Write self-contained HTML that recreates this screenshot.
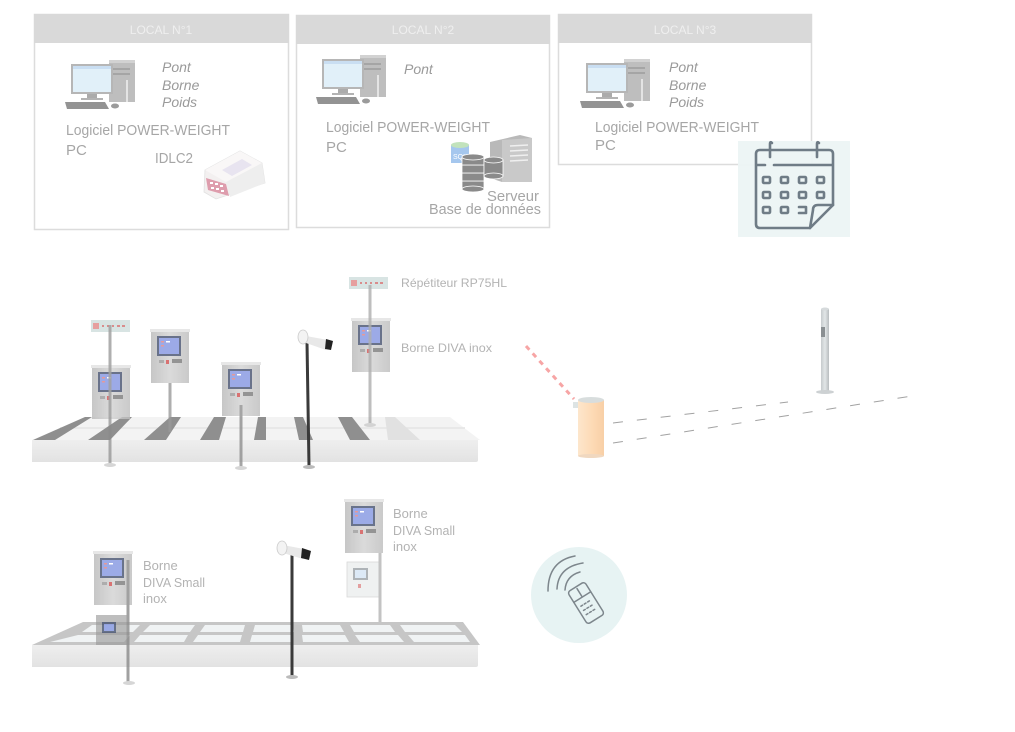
<!DOCTYPE html>
<html><head><meta charset="utf-8">
<style>
html,body{margin:0;padding:0;background:#fff;}
body{width:1015px;height:732px;overflow:hidden;}
svg{display:block;font-family:"Liberation Sans",sans-serif;}
</style></head>
<body>
<svg width="1015" height="732" viewBox="0 0 1015 732" xmlns="http://www.w3.org/2000/svg">
<defs>
  <linearGradient id="steel" x1="0" x2="1" y1="0" y2="0">
    <stop offset="0" stop-color="#b9b9b9"/>
    <stop offset="0.5" stop-color="#d2d2d2"/>
    <stop offset="1" stop-color="#bdbdbd"/>
  </linearGradient>
  <linearGradient id="front" x1="0" x2="0" y1="0" y2="1">
    <stop offset="0" stop-color="#ececec"/>
    <stop offset="1" stop-color="#dedede"/>
  </linearGradient>
  <linearGradient id="cyl" x1="0" x2="1" y1="0" y2="0">
    <stop offset="0" stop-color="#fde6cc"/>
    <stop offset="0.6" stop-color="#fdd9b3"/>
    <stop offset="1" stop-color="#f8cfa6"/>
  </linearGradient>
  <linearGradient id="postg" x1="0" x2="1" y1="0" y2="0">
    <stop offset="0" stop-color="#c6cbcd"/>
    <stop offset="0.5" stop-color="#e2e6e7"/>
    <stop offset="1" stop-color="#b8bdbf"/>
  </linearGradient>
  <symbol id="kiosk" viewBox="0 0 38 54" width="38" height="54" overflow="visible">
    <rect x="0" y="2" width="38" height="52" fill="url(#steel)"/>
    <rect x="-1" y="0" width="40" height="3" fill="#e2e2e2"/>
    <rect x="6" y="7" width="24" height="20" fill="#44506e"/>
    <rect x="8" y="9" width="20" height="16" fill="#8496e2"/>
    <rect x="10" y="12" width="3" height="1.5" fill="#e08080"/>
    <rect x="10" y="16" width="3" height="1.5" fill="#e08080"/>
    <rect x="15" y="12" width="4" height="1.5" fill="#ffffff"/>
    <rect x="8" y="31" width="5" height="3" fill="#999"/>
    <rect x="15" y="31" width="3" height="4" fill="#d05050"/>
    <rect x="21" y="30" width="10" height="4" fill="#7a7a7a"/>
  </symbol>
  <symbol id="rep" viewBox="0 0 39 12" width="39" height="12" overflow="visible">
    <rect x="0" y="0" width="39" height="12" fill="#cfdedd"/>
    <rect x="2" y="3" width="6" height="6" fill="#e08888"/>
    <rect x="11" y="5" width="2" height="2" fill="#d07070"/>
    <rect x="16" y="5" width="2" height="2" fill="#d07070"/>
    <rect x="21" y="5" width="2" height="2" fill="#d07070"/>
    <rect x="26" y="5" width="3" height="2" fill="#d07070"/>
    <rect x="31" y="5" width="3" height="2" fill="#d07070"/>
  </symbol>
  <symbol id="pc" viewBox="0 0 72 52" width="72" height="52" overflow="visible">
    <rect x="44" y="2" width="26" height="42" fill="#a9a9a9"/>
    <rect x="44" y="2" width="26" height="3" fill="#c4c4c4"/>
    <rect x="47" y="10" width="18" height="2" fill="#888"/>
    <rect x="47" y="15" width="18" height="2" fill="#888"/>
    <path d="M62 22 L62 44" stroke="#dcdcdc" stroke-width="2"/>
    <rect x="6" y="6" width="42" height="30" fill="#9e9e9e"/>
    <rect x="8" y="8" width="38" height="26" fill="#d8ebf7"/>
    <rect x="8" y="8" width="38" height="3" fill="#b8d4ee"/>
    <rect x="22" y="36" width="10" height="4" fill="#8f8f8f"/>
    <rect x="16" y="40" width="22" height="2" fill="#9a9a9a"/>
    <path d="M0 44 L40 44 L44 51 L2 51 Z" fill="#6f6f6f"/>
    <ellipse cx="50" cy="48" rx="4" ry="2.5" fill="#7a7a7a"/>
  </symbol>
</defs>

<!-- ============ TOP BOXES ============ -->
<!-- Box 1 -->
<rect x="34.5" y="14.5" width="254" height="215" fill="#fff" stroke="#dcdcdc" stroke-width="1.5"/>
<rect x="34" y="14" width="255" height="29" fill="#d9d9d9"/>
<text x="161" y="34" font-size="12" fill="#efefef" text-anchor="middle">LOCAL N°1</text>
<g opacity="0.75"><use href="#pc" x="65" y="58"/></g>
<g font-size="14" font-style="italic" fill="#9a9a9a">
  <text x="162" y="72">Pont</text>
  <text x="162" y="90">Borne</text>
  <text x="162" y="107">Poids</text>
</g>
<text x="66" y="135" font-size="15" fill="#a6a6a6" textLength="164" lengthAdjust="spacingAndGlyphs">Logiciel POWER-WEIGHT</text>
<text x="66" y="155" font-size="15" fill="#a6a6a6">PC</text>
<text x="155" y="163" font-size="15" fill="#a6a6a6" textLength="38" lengthAdjust="spacingAndGlyphs">IDLC2</text>
<!-- IDLC2 device -->
<g opacity="0.85">
  <path d="M205 170 L240 151 L262 163 L265 183 L216 199 L204 192 Z" fill="#f2eeee" stroke="#dcdcdc" stroke-width="0.8"/>
  <path d="M205 170 L240 151 L262 163 L226 182 Z" fill="#f8f6f6"/>
  <path d="M222 170 L242 159 L252 165 L232 176 Z" fill="#e4e0ee"/>
  <path d="M226 182 L262 163 L265 183 L230 197 Z" fill="#ececec"/>
  <path d="M206 178 L226 184 L229 196 L208 190 Z" fill="#d98d9f"/>
  <g fill="#fff"><rect x="210" y="182" width="3" height="2"/><rect x="215" y="183" width="3" height="2"/><rect x="220" y="185" width="3" height="2"/><rect x="211" y="187" width="3" height="2"/><rect x="216" y="188" width="3" height="2"/><rect x="221" y="190" width="3" height="2"/></g>
</g>

<!-- Box 2 -->
<rect x="296.5" y="15.5" width="253" height="212" fill="#fff" stroke="#dcdcdc" stroke-width="1.5"/>
<rect x="296" y="15" width="254" height="29" fill="#d9d9d9"/>
<text x="423" y="34" font-size="12" fill="#efefef" text-anchor="middle">LOCAL N°2</text>
<g opacity="0.75"><use href="#pc" x="316" y="53"/></g>
<text x="404" y="74" font-size="14" font-style="italic" fill="#9a9a9a">Pont</text>
<text x="326" y="132" font-size="15" fill="#a6a6a6" textLength="164" lengthAdjust="spacingAndGlyphs">Logiciel POWER-WEIGHT</text>
<text x="326" y="152" font-size="15" fill="#a6a6a6">PC</text>
<!-- server / db icon -->
<g opacity="0.7">
  <path d="M490 142 L520 135 L532 138 L532 182 L502 182 L490 178 Z" fill="#9c9c9c"/>
  <path d="M502 140 L532 138 L532 182 L502 182 Z" fill="#b3b3b3"/>
  <g stroke="#e9e9e9" stroke-width="1.5"><line x1="510" y1="146" x2="528" y2="145"/><line x1="510" y1="151" x2="528" y2="150"/><line x1="510" y1="156" x2="528" y2="155"/><line x1="510" y1="161" x2="528" y2="160"/></g>
  <rect x="451" y="145" width="18" height="18" fill="#7fb0e8"/>
  <ellipse cx="460" cy="145" rx="9" ry="3" fill="#a9d8a0"/>
  <text x="453" y="159" font-size="7" fill="#fff">SQL</text>
  <g fill="#5a5a5a" stroke="#fff" stroke-width="0.8">
    <rect x="462" y="181" width="22" height="8"/><ellipse cx="473" cy="189" rx="11" ry="3"/>
    <rect x="462" y="173" width="22" height="8"/>
    <rect x="462" y="165" width="22" height="8"/>
    <rect x="462" y="157" width="22" height="8"/><ellipse cx="473" cy="157" rx="11" ry="3"/>
    <rect x="484" y="160" width="19" height="16"/><ellipse cx="493.5" cy="160" rx="9.5" ry="3"/><ellipse cx="493.5" cy="176" rx="9.5" ry="3"/>
  </g>
</g>
<text x="487" y="201" font-size="15" fill="#a6a6a6" textLength="52" lengthAdjust="spacingAndGlyphs">Serveur</text>
<text x="429" y="214" font-size="15" fill="#a6a6a6" textLength="112" lengthAdjust="spacingAndGlyphs">Base de données</text>

<!-- Box 3 -->
<rect x="558.5" y="14.5" width="253" height="150" fill="#fff" stroke="#dcdcdc" stroke-width="1.5"/>
<rect x="558" y="14" width="254" height="29" fill="#d9d9d9"/>
<text x="685" y="34" font-size="12" fill="#efefef" text-anchor="middle">LOCAL N°3</text>
<g opacity="0.75"><use href="#pc" x="580" y="57"/></g>
<g font-size="14" font-style="italic" fill="#9a9a9a">
  <text x="669" y="72">Pont</text>
  <text x="669" y="90">Borne</text>
  <text x="669" y="107">Poids</text>
</g>
<text x="595" y="132" font-size="15" fill="#a6a6a6" textLength="164" lengthAdjust="spacingAndGlyphs">Logiciel POWER-WEIGHT</text>
<text x="595" y="150" font-size="15" fill="#a6a6a6">PC</text>

<!-- Calendar -->
<rect x="738" y="141" width="112" height="96" fill="#ecf4f4" opacity="0.95"/>
<g fill="none" stroke="#6f7c86" stroke-width="2.6" stroke-linejoin="round" stroke-linecap="round">
  <path d="M760 150 L829 150 Q833 150 833 154 L833 205 L810 228 L760 228 Q756 228 756 224 L756 154 Q756 150 760 150 Z"/>
  <line x1="757" y1="165" x2="765" y2="165"/>
  <line x1="774" y1="165" x2="832" y2="165"/>
  <path d="M770 157 L770 144 Q770 141 772 143"/>
  <path d="M817 157 L817 144 Q817 141 819 143"/>
  <path d="M833 205 L818 205 Q813 205 813 210 L810 228"/>
  <rect x="763" y="177" width="7" height="6" rx="1"/><rect x="781" y="177" width="7" height="6" rx="1"/><rect x="799" y="177" width="7" height="6" rx="1"/><rect x="817" y="177" width="7" height="6" rx="1"/>
  <rect x="763" y="192" width="7" height="6" rx="1"/><rect x="781" y="192" width="7" height="6" rx="1"/><rect x="799" y="192" width="7" height="6" rx="1"/><rect x="817" y="192" width="7" height="6" rx="1"/>
  <rect x="763" y="207" width="7" height="6" rx="1"/><rect x="781" y="207" width="7" height="6" rx="1"/><path d="M799 207 L806 207 L806 213 L799 213"/>
</g>

<!-- ============ PLATFORM 1 ============ -->
<g opacity="0.85">
  <path d="M32 440 L478 440 L478 460 Q478 462 476 462 L32 462 Z" fill="url(#front)"/>
  <path d="M85 417 L450 417 L480 440 L32 440 Z" fill="#f2f2f2"/>
  <line x1="60" y1="428" x2="465" y2="428" stroke="#e0e0e0" stroke-width="1.5"/>
  <g fill="#7c7c7c">
    <path d="M33 440 L55 440 L92 417 L85 417 Z"/>
    <path d="M88 440 L110 440 L132 417 L122 417 Z"/>
    <path d="M144 440 L166 440 L181 417 L170 417 Z"/>
    <path d="M200 440 L219 440 L226 417 L214 417 Z"/>
    <path d="M254 440 L266 440 L266 417 L258 417 Z"/>
    <path d="M299 440 L313 440 L303 417 L294 417 Z"/>
    <path d="M350 440 L370 440 L352 417 L338 417 Z"/>
  </g>
  <path d="M388 440 L420 440 L395 417 L385 417 Z" fill="#dcdcdc"/>
</g>
<!-- devices on platform 1 -->
<g opacity="0.8">
  <use href="#rep" x="91" y="320"/>
  <use href="#kiosk" x="92" y="365"/>
  <use href="#kiosk" x="151" y="329"/>
  <line x1="170" y1="383" x2="170" y2="432" stroke="#9a9a9a" stroke-width="3"/>
  <use href="#kiosk" x="222" y="362"/>
  <line x1="241" y1="405" x2="241" y2="468" stroke="#8f8f8f" stroke-width="3"/>
  <use href="#rep" x="349" y="277"/>
  <use href="#kiosk" x="352" y="318"/>
  <line x1="370" y1="285" x2="370" y2="425" stroke="#9a9a9a" stroke-width="3" opacity="0.8"/>
  <line x1="110" y1="325" x2="110" y2="465" stroke="#8a8a8a" stroke-width="3" opacity="0.85"/>
  <ellipse cx="110" cy="465" rx="6" ry="2" fill="#ccc"/>
  <ellipse cx="241" cy="468" rx="6" ry="2" fill="#ccc"/>
  <ellipse cx="370" cy="425" rx="6" ry="2" fill="#ccc"/>
</g>
<!-- camera 1 -->
<g>
  <line x1="307" y1="342" x2="309" y2="466" stroke="#3a3a3a" stroke-width="3"/>
  <ellipse cx="309" cy="467" rx="6" ry="2" fill="#bbb"/>
  <path d="M306 336 L328 340 L326 350 L306 343 Z" fill="#e8e8e8"/>
  <path d="M326 339 L333 341 L331 350 L325 349 Z" fill="#222"/>
  <ellipse cx="303" cy="337" rx="5" ry="7" fill="#f3f3f3" stroke="#ccc" stroke-width="0.8"/>
</g>
<text x="401" y="287" font-size="12" fill="#b3b3b3" textLength="106" lengthAdjust="spacingAndGlyphs">Répétiteur RP75HL</text>
<text x="401" y="352" font-size="12" fill="#b3b3b3" textLength="91" lengthAdjust="spacingAndGlyphs">Borne DIVA inox</text>

<!-- ============ BARRIER AREA ============ -->
<line x1="526" y1="346" x2="574" y2="399" stroke="#f7a5a5" stroke-width="3" stroke-dasharray="5 5"/>
<rect x="573" y="402" width="6" height="6" fill="#dde4e4"/>
<rect x="578" y="400" width="26" height="56" fill="url(#cyl)"/>
<ellipse cx="591" cy="400" rx="13" ry="3" fill="#d8dddd"/>
<ellipse cx="591" cy="456" rx="13" ry="2" fill="#f0d8c0"/>
<g stroke="#a2a2a2" stroke-width="1" stroke-dasharray="10 14">
  <line x1="613" y1="423" x2="788" y2="402"/>
  <line x1="613" y1="443" x2="912" y2="396"/>
</g>
<rect x="821" y="309" width="8" height="83" fill="url(#postg)"/>
<ellipse cx="825" cy="309" rx="4" ry="1.5" fill="#d6dadc"/>
<rect x="821" y="327" width="4" height="10" fill="#8a8f92"/>
<ellipse cx="825" cy="392" rx="9" ry="2" fill="#cdd1d3"/>

<!-- ============ PLATFORM 2 ============ -->
<g opacity="0.85">
  <path d="M32 645 L478 645 L478 665 Q478 667 476 667 L32 667 Z" fill="url(#front)"/>
  <path d="M83 622 L463 622 L480 645 L32 645 Z" fill="#bdbdbd"/>
  <g fill="#eef2f3">
    <path d="M92 625 L140 625 L133 632 L82 632 Z"/>
    <path d="M150 625 L195 625 L190 632 L143 632 Z"/>
    <path d="M205 625 L245 625 L243 632 L200 632 Z"/>
    <path d="M255 625 L293 625 L294 632 L253 632 Z"/>
    <path d="M302 625 L340 625 L344 632 L303 632 Z"/>
    <path d="M350 625 L390 625 L395 632 L354 632 Z"/>
    <path d="M400 625 L455 625 L462 632 L405 632 Z"/>
    <path d="M78 635 L130 635 L124 642 L50 642 Z"/>
    <path d="M140 635 L188 635 L184 642 L134 642 Z"/>
    <path d="M198 635 L242 635 L240 642 L193 642 Z"/>
    <path d="M252 635 L292 635 L293 642 L250 642 Z"/>
    <path d="M302 635 L345 635 L349 642 L303 642 Z"/>
    <path d="M355 635 L398 635 L404 642 L360 642 Z"/>
    <path d="M408 635 L465 635 L470 642 L414 642 Z"/>
  </g>
</g>
<g opacity="0.8">
  <use href="#kiosk" x="94" y="551"/>
  <rect x="96" y="615" width="32" height="30" fill="#9a9a9a" opacity="0.8"/>
  <rect x="102" y="622" width="14" height="11" fill="#44506e"/>
  <rect x="104" y="624" width="10" height="7" fill="#8496e2"/>
  <line x1="128" y1="560" x2="128" y2="683" stroke="#8a8a8a" stroke-width="3"/>
  <ellipse cx="129" cy="683" rx="6" ry="2" fill="#ccc"/>
  <use href="#kiosk" x="345" y="499"/>
  <rect x="347" y="562" width="33" height="35" fill="#eceeee" stroke="#cfcfcf" stroke-width="0.8"/>
  <rect x="353" y="568" width="15" height="12" fill="#9aa0a6"/>
  <rect x="355" y="570" width="11" height="8" fill="#d4e4f4"/>
  <rect x="358" y="584" width="3" height="4" fill="#d88"/>
  <line x1="380" y1="553" x2="380" y2="622" stroke="#b5b5b5" stroke-width="3"/>
</g>
<!-- camera 2 -->
<g>
  <line x1="292" y1="555" x2="292" y2="677" stroke="#3a3a3a" stroke-width="3"/>
  <ellipse cx="292" cy="677" rx="6" ry="2" fill="#bbb"/>
  <path d="M283 545 L304 549 L303 559 L283 553 Z" fill="#e8e8e8"/>
  <path d="M302 548 L311 551 L309 560 L301 558 Z" fill="#222"/>
  <ellipse cx="282" cy="548" rx="5" ry="7" fill="#f3f3f3" stroke="#ccc" stroke-width="0.8"/>
</g>
<g font-size="13" fill="#b3b3b3">
  <text x="143" y="570">Borne</text>
  <text x="143" y="587" textLength="62" lengthAdjust="spacingAndGlyphs">DIVA Small</text>
  <text x="143" y="603">inox</text>
  <text x="393" y="518">Borne</text>
  <text x="393" y="535" textLength="62" lengthAdjust="spacingAndGlyphs">DIVA Small</text>
  <text x="393" y="551">inox</text>
</g>

<!-- remote -->
<circle cx="579" cy="595" r="48" fill="#e7f3f3"/>
<g fill="none" stroke="#7d868c" stroke-width="1.5" stroke-linecap="round">
  <g transform="rotate(-32 586 603)">
    <rect x="576" y="584" width="20" height="38" rx="3"/>
    <line x1="576" y1="596" x2="596" y2="596"/>
    <line x1="586" y1="586" x2="586" y2="595"/>
    <g stroke-dasharray="2 2"><line x1="580" y1="603" x2="592" y2="603"/><line x1="580" y1="608" x2="592" y2="608"/><line x1="580" y1="613" x2="592" y2="613"/></g>
  </g>
  <path d="M565 590 Q566 576 580 572"/>
  <path d="M557 589 Q558 567 583 563"/>
  <path d="M548 591 Q548 561 575 556"/>
</g>
</svg>
</body></html>
